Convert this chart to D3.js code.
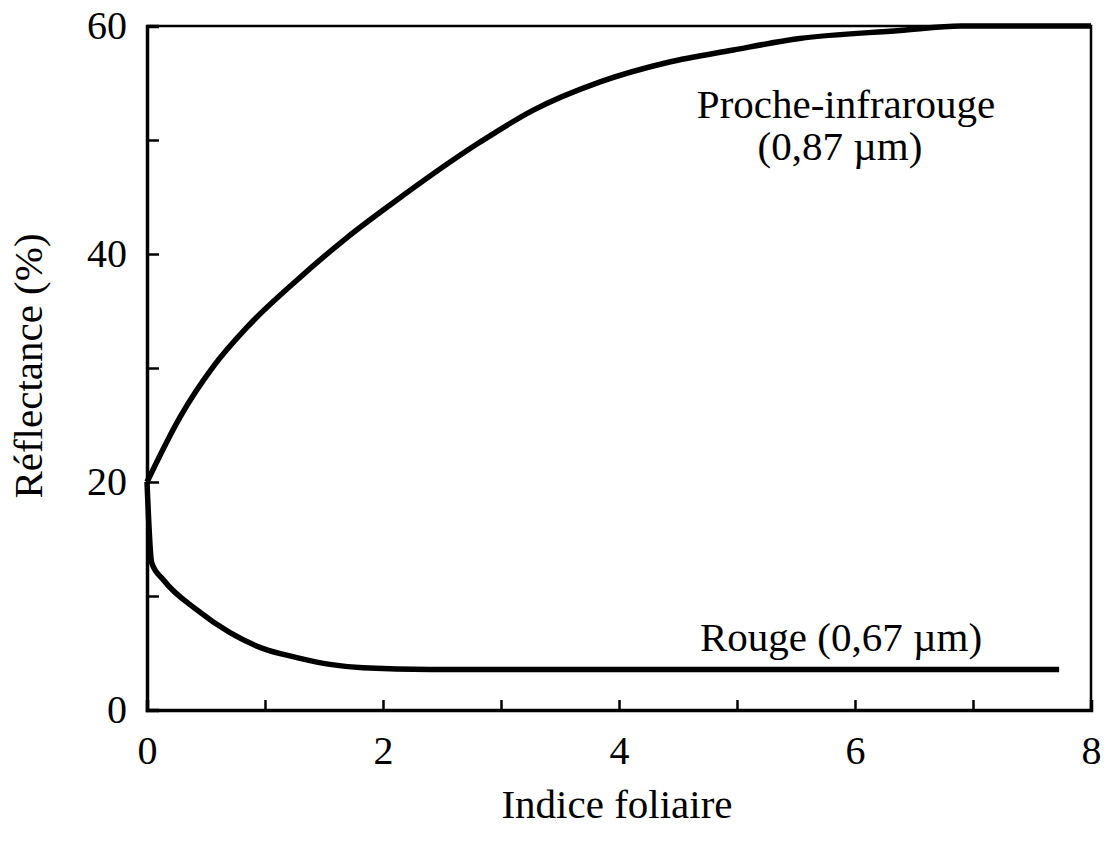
<!DOCTYPE html>
<html>
<head>
<meta charset="utf-8">
<script src="https://cdn.jsdelivr.net/npm/d3@7"></script>
<style>
	body { margin: 0; background: #fff; }
	text { font-family: "Liberation Serif", "Times New Roman", serif; fill: #000; }
</style>
</head>
<body>
<svg id="chart" width="1108" height="853"></svg>
<script>
// leaf area index (x) vs reflectance in % (y)
var nirX = [0, 0.28, 0.56, 0.85, 1.27, 1.69, 2.06, 2.82, 3.27, 3.84, 4.41, 4.97, 5.53, 6.38, 6.9, 8];
var nirY = [20, 25.7, 30.1, 33.6, 37.7, 41.4, 44.3, 49.8, 52.6, 55.1, 56.8, 57.9, 58.9, 59.6, 60, 60];

var redX = [0, 0.04, 0.14, 0.42, 0.70, 0.98, 1.27, 1.55, 1.83, 2.4, 4, 7.73];
var redY = [20, 12.9, 11.4, 8.8, 6.8, 5.4, 4.6, 4.0, 3.7, 3.55, 3.55, 3.55];

var xTicks = [0, 1, 2, 3, 4, 5, 6, 7, 8];
var xLabels = [0, 2, 4, 6, 8];
var yTicks = [0, 10, 20, 30, 40, 50, 60];
var yLabels = [0, 20, 40, 60];

var svg = d3.select('#chart'),
	margin = { top: 26, right: 17, bottom: 143, left: 147 },
	width = +svg.attr('width') - margin.left - margin.right,
	height = +svg.attr('height') - margin.top - margin.bottom,
	g = svg.append('g').attr('transform', 'translate(' + margin.left + ',' + margin.top + ')');

var scaleX = d3.scaleLinear().domain([0, 8]).range([0, width]);
var scaleY = d3.scaleLinear().domain([0, 60]).range([height, 0]);

function zip(xs, ys) {
	return xs.map(function (x, i) { return { x: x, y: ys[i] }; });
}

// frame (top and right sides)
g.append('path')
	.attr('fill', 'none')
	.attr('stroke', '#000')
	.attr('stroke-width', 2.5)
	.attr('d', 'M0,0H' + width + 'V' + height);

// inward ticks
var xTickAxis = g.append('g')
	.attr('transform', 'translate(0,' + height + ')')
	.call(d3.axisBottom(scaleX).tickValues(xTicks).tickSize(-10).tickFormat(''));
var yTickAxis = g.append('g')
	.call(d3.axisLeft(scaleY).tickValues(yTicks).tickSize(-12).tickFormat(''));

[xTickAxis, yTickAxis].forEach(function (a) {
	a.select('.domain').attr('stroke-width', 3.5);
	a.selectAll('.tick line').attr('stroke-width', 2.5);
});

// tick labels
g.append('g')
	.attr('transform', 'translate(0,' + height + ')')
	.call(d3.axisBottom(scaleX).tickValues(xLabels).tickSize(0).tickPadding(26))
	.call(function (a) { a.select('.domain').remove(); })
	.selectAll('text')
	.attr('font-size', 40)
	.attr('font-family', '"Liberation Serif", serif');

g.append('g')
	.call(d3.axisLeft(scaleY).tickValues(yLabels).tickSize(0).tickPadding(20))
	.call(function (a) { a.select('.domain').remove(); })
	.selectAll('text')
	.attr('font-size', 40)
	.attr('font-family', '"Liberation Serif", serif');

// axis titles
svg.append('text')
	.attr('x', margin.left + width / 2 - 2)
	.attr('y', 818)
	.attr('text-anchor', 'middle')
	.attr('font-size', 41)
	.text('Indice foliaire');

svg.append('text')
	.attr('transform', 'translate(42,366) rotate(-90)')
	.attr('text-anchor', 'middle')
	.attr('font-size', 41)
	.text('Réflectance (%)');

// curves
var line = d3.line()
	.x(function (d) { return scaleX(d.x); })
	.y(function (d) { return scaleY(d.y); })
	.curve(d3.curveMonotoneX);

g.append('path')
	.datum(zip(nirX, nirY))
	.attr('fill', 'none')
	.attr('stroke', '#000')
	.attr('stroke-width', 5.5)
	.attr('stroke-linejoin', 'round')
	.attr('d', line);

g.append('path')
	.datum(zip(redX, redY))
	.attr('fill', 'none')
	.attr('stroke', '#000')
	.attr('stroke-width', 5.5)
	.attr('stroke-linejoin', 'round')
	.attr('d', line);

// curve labels
svg.append('text')
	.attr('x', 846)
	.attr('y', 118)
	.attr('text-anchor', 'middle')
	.attr('font-size', 41)
	.text('Proche-infrarouge');

svg.append('text')
	.attr('x', 840)
	.attr('y', 160)
	.attr('text-anchor', 'middle')
	.attr('font-size', 41)
	.text('(0,87 µm)');

svg.append('text')
	.attr('x', 700)
	.attr('y', 651)
	.attr('font-size', 41)
	.text('Rouge (0,67 µm)');
</script>
</body>
</html>
